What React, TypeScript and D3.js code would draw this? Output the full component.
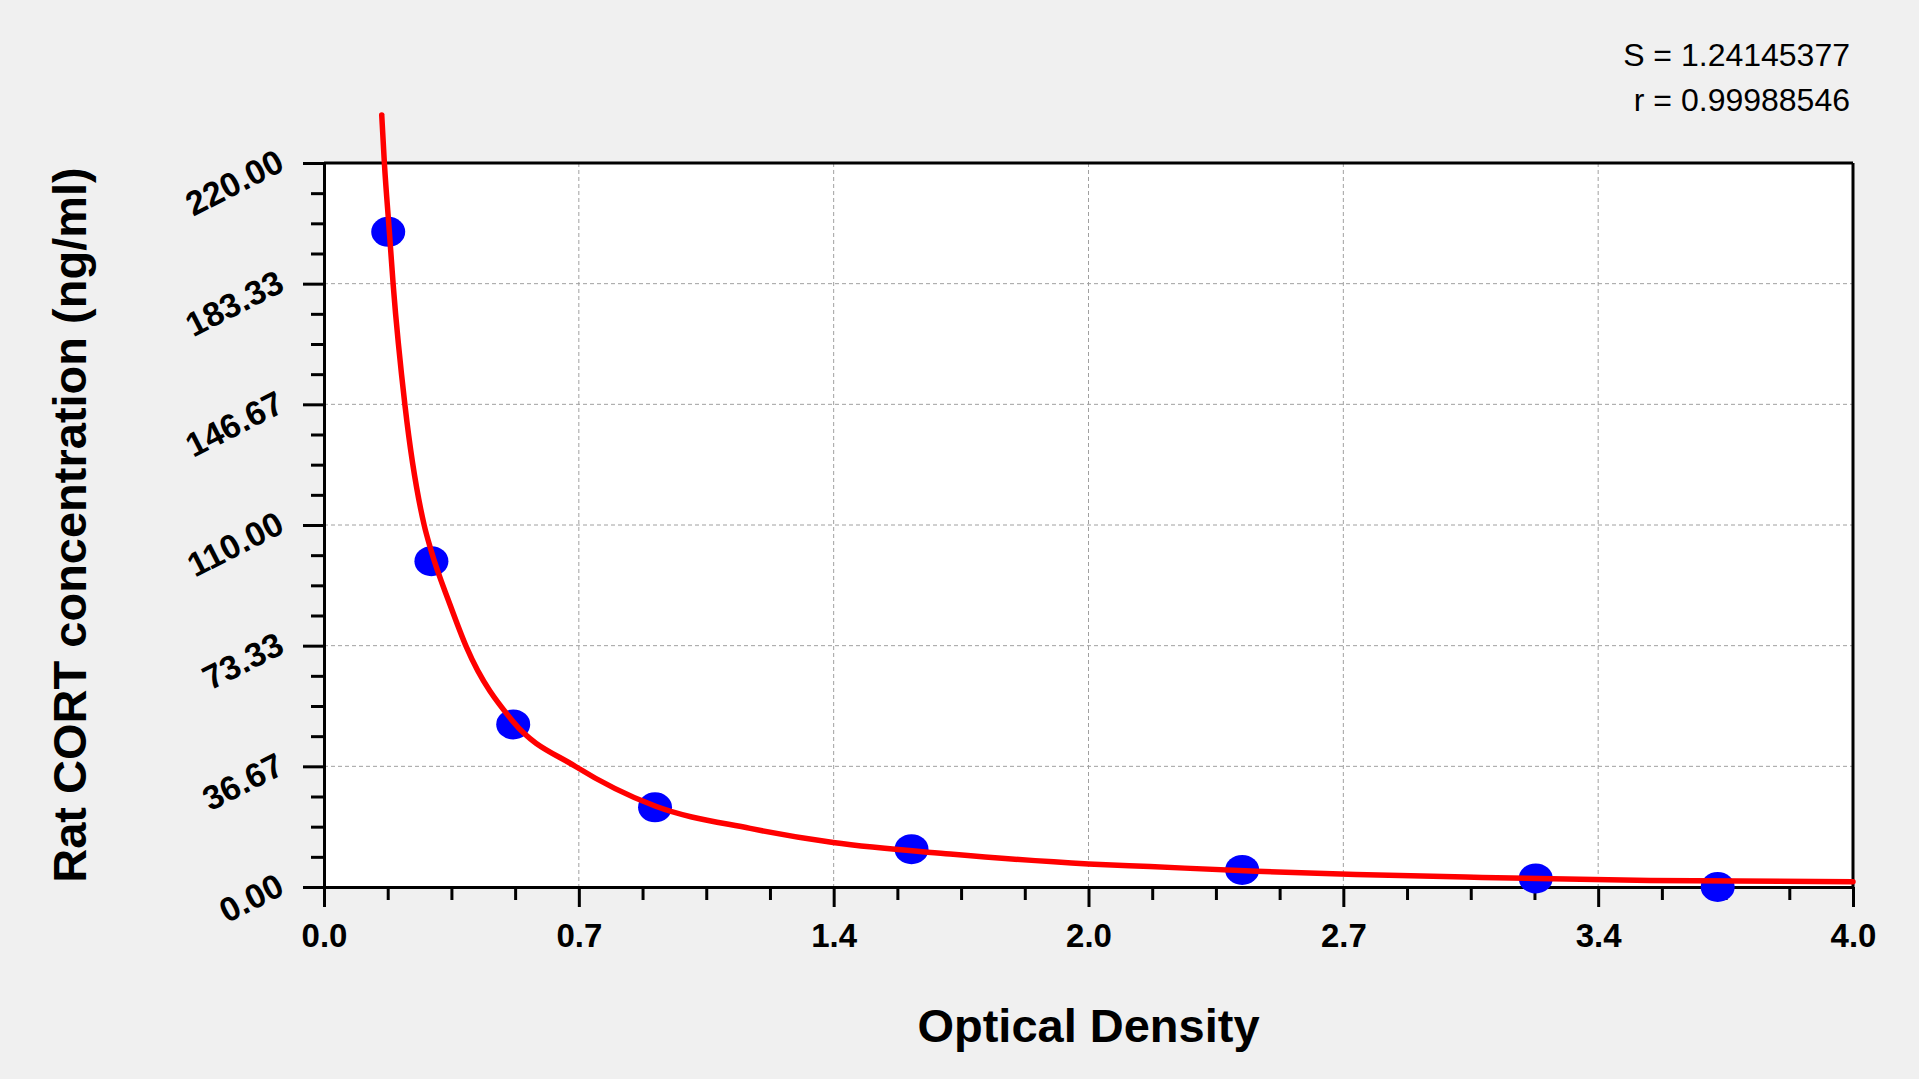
import { useRef, useEffect } from 'react';
import * as d3 from 'd3';

// standards (optical density vs concentration)
const stdOD = [0.168, 0.281, 0.495, 0.866, 1.537, 2.402, 3.17, 3.646];
const stdConc = [199.1, 99.0, 49.4, 24.2, 11.5, 5.2, 2.6, 0];

// fitted curve
const fitOD = [0.151, 0.158, 0.171, 0.181, 0.212, 0.262, 0.279, 0.33, 0.373, 0.495, 0.657, 0.866, 1.115, 1.332, 1.638, 2.0, 2.161, 2.44, 2.7, 3.03, 3.47, 4.0];
const fitConc = [234.6, 219.9, 199.1, 183.0, 146.2, 110.0, 102.7, 85.7, 72.8, 50.2, 36.7, 24.6, 17.8, 13.5, 10.0, 7.0, 6.2, 4.8, 3.8, 2.9, 2.0, 1.6];

const xTickLabels = ['0.0', '0.7', '1.4', '2.0', '2.7', '3.4', '4.0'];
const yTickLabels = ['0.00', '36.67', '73.33', '110.00', '146.67', '183.33', '220.00'];

const statLines = ['S = 1.24145377', 'r = 0.99988546'];

const W = 1919;
const H = 1079;
const FONT = '"Liberation Sans", Arial, Helvetica, sans-serif';

export default function App() {
  const svgRef = useRef<SVGSVGElement>(null);

  useEffect(() => {
    if (!svgRef.current) return;
    const svg = d3.select(svgRef.current);
    svg.selectAll('*').remove();

    const margin = { top: 163, right: W - 1853, bottom: H - 887, left: 324 };
    const innerWidth = W - margin.left - margin.right;
    const innerHeight = H - margin.top - margin.bottom;

    svg.append('rect').attr('width', W).attr('height', H).attr('fill', '#f0f0f0');

    const g = svg.append('g').attr('transform', `translate(${margin.left},${margin.top})`);

    const xScale = d3.scaleLinear().domain([0, 4]).range([0, innerWidth]);
    const yScale = d3.scaleLinear().domain([0, 220]).range([innerHeight, 0]);

    const xMajor = d3.range(7).map((i) => (i * 4) / 6);
    const xMinor = d3.range(25).map((i) => (i * 4) / 24).filter((_, i) => i % 4 !== 0);
    const yMajor = d3.range(7).map((i) => (i * 220) / 6);
    const yMinor = d3.range(25).map((i) => (i * 220) / 24).filter((_, i) => i % 4 !== 0);

    // plot background
    g.append('rect').attr('width', innerWidth).attr('height', innerHeight).attr('fill', '#ffffff');

    // grid lines
    g.append('g')
      .selectAll('line')
      .data(xMajor.slice(1, -1))
      .join('line')
      .attr('x1', (d) => xScale(d))
      .attr('x2', (d) => xScale(d))
      .attr('y1', 0)
      .attr('y2', innerHeight)
      .attr('stroke', '#a0a0a0')
      .attr('stroke-width', 1)
      .attr('stroke-dasharray', '4,3');

    g.append('g')
      .selectAll('line')
      .data(yMajor.slice(1, -1))
      .join('line')
      .attr('x1', 0)
      .attr('x2', innerWidth)
      .attr('y1', (d) => yScale(d))
      .attr('y2', (d) => yScale(d))
      .attr('stroke', '#a0a0a0')
      .attr('stroke-width', 1)
      .attr('stroke-dasharray', '4,3');

    // frame (top + right)
    g.append('line')
      .attr('x1', 0).attr('x2', innerWidth).attr('y1', 0).attr('y2', 0)
      .attr('stroke', '#000').attr('stroke-width', 3);
    g.append('line')
      .attr('x1', innerWidth).attr('x2', innerWidth).attr('y1', 0).attr('y2', innerHeight)
      .attr('stroke', '#000').attr('stroke-width', 3);

    // minor ticks
    g.append('g')
      .attr('transform', `translate(0,${innerHeight})`)
      .call(d3.axisBottom(xScale).tickValues(xMinor).tickSize(13).tickSizeOuter(0).tickFormat(() => ''))
      .call((a) => a.select('.domain').remove())
      .selectAll('line').attr('stroke-width', 3);
    g.append('g')
      .call(d3.axisLeft(yScale).tickValues(yMinor).tickSize(13).tickSizeOuter(0).tickFormat(() => ''))
      .call((a) => a.select('.domain').remove())
      .selectAll('line').attr('stroke-width', 3);

    // X axis
    const xAxis = g
      .append('g')
      .attr('transform', `translate(0,${innerHeight})`)
      .call(
        d3.axisBottom(xScale)
          .tickValues(xMajor)
          .tickSize(20)
          .tickSizeOuter(0)
          .tickFormat((_, i) => xTickLabels[i])
      );
    xAxis.select('.domain').attr('stroke-width', 3);
    xAxis.selectAll('line').attr('stroke-width', 3);
    xAxis
      .selectAll('text')
      .attr('y', 60)
      .attr('dy', 0)
      .attr('font-family', FONT)
      .attr('font-size', 33)
      .attr('font-weight', 'bold')
      .attr('fill', '#000');

    // Y axis
    const yAxis = g.append('g').call(
      d3.axisLeft(yScale)
        .tickValues(yMajor)
        .tickSize(21)
        .tickSizeOuter(0)
        .tickFormat((_, i) => yTickLabels[i])
    );
    yAxis.select('.domain').attr('stroke-width', 3);
    yAxis.selectAll('line').attr('stroke-width', 3);
    yAxis
      .selectAll('text')
      .attr('x', null)
      .attr('dy', null)
      .attr('transform', 'translate(-38,6) rotate(-27)')
      .attr('text-anchor', 'end')
      .attr('font-family', FONT)
      .attr('font-size', 34)
      .attr('font-weight', 'bold')
      .attr('fill', '#000');

    // standard points
    g.append('g')
      .selectAll('ellipse')
      .data(stdOD.map((x, i) => ({ x, y: stdConc[i] })))
      .join('ellipse')
      .attr('cx', (d) => xScale(d.x))
      .attr('cy', (d) => yScale(d.y))
      .attr('rx', 17)
      .attr('ry', 15)
      .attr('fill', '#0000ff');

    // fitted curve
    const line = d3
      .line<{ x: number; y: number }>()
      .x((d) => xScale(d.x))
      .y((d) => yScale(d.y))
      .curve(d3.curveMonotoneX);

    g.append('path')
      .datum(fitOD.map((x, i) => ({ x, y: fitConc[i] })))
      .attr('fill', 'none')
      .attr('stroke', '#ff0000')
      .attr('stroke-width', 5.5)
      .attr('stroke-linecap', 'round')
      .attr('stroke-linejoin', 'round')
      .attr('d', line);

    // axis titles
    svg.append('text')
      .attr('x', margin.left + innerWidth / 2)
      .attr('y', 1042)
      .attr('text-anchor', 'middle')
      .attr('font-family', FONT)
      .attr('font-size', 47)
      .attr('font-weight', 'bold')
      .text('Optical Density');

    svg.append('text')
      .attr('transform', `translate(86,${margin.top + innerHeight / 2}) rotate(-90)`)
      .attr('text-anchor', 'middle')
      .attr('font-family', FONT)
      .attr('font-size', 47)
      .attr('font-weight', 'bold')
      .text('Rat CORT concentration (ng/ml)');

    // fit statistics
    svg.append('g')
      .selectAll('text')
      .data(statLines)
      .join('text')
      .attr('x', 1850)
      .attr('y', (_, i) => 66 + i * 45)
      .attr('text-anchor', 'end')
      .attr('font-family', FONT)
      .attr('font-size', 32)
      .text((d) => d);
  }, []);

  return (
    <div style={{ position: 'fixed', left: 0, top: 0, width: W, height: H }}>
      <svg ref={svgRef} width={W} height={H} style={{ display: 'block' }} />
    </div>
  );
}
